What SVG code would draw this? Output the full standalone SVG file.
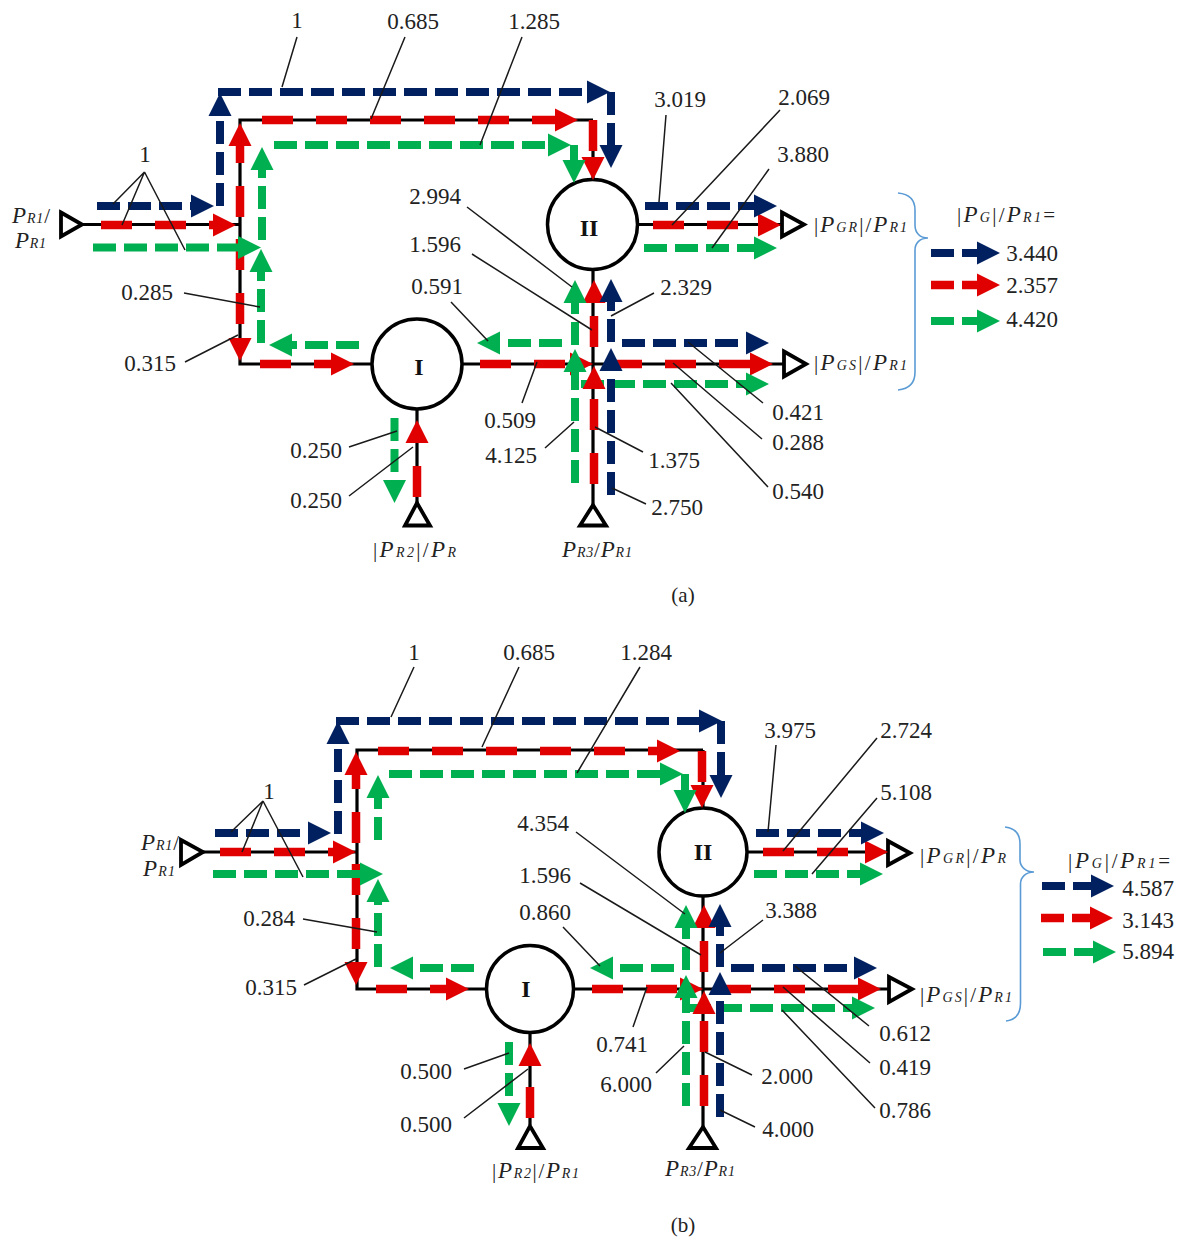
<svg xmlns="http://www.w3.org/2000/svg" width="1180" height="1238" viewBox="0 0 1180 1238">
<style>
text{font-family:"Liberation Serif","Times New Roman",serif;fill:#222}
.n{font-size:23px;text-anchor:middle}
.c{font-size:21px;text-anchor:middle}
.r{font-size:24px;font-weight:bold;text-anchor:middle;fill:#111}
.m{font-size:21px}
.i{font-style:italic;font-size:23px}
.s{font-size:14px;font-style:italic}
.w{fill:none;stroke:#000;stroke-width:3.2}
.nc{fill:#fff;stroke:#000;stroke-width:3.5}
.p{fill:#fff;stroke:#000;stroke-width:3.8}
.b,.g,.d{fill:none;stroke-width:8}
.b{stroke:#002060;stroke-dasharray:23 8;marker-end:url(#hb)}
.g{stroke:#00B050;stroke-dasharray:23 8;marker-end:url(#hg)}
.d{stroke:#E00000;stroke-dasharray:31 23;stroke-width:8.5;marker-end:url(#hd)}
.l{fill:none;stroke:#1a1a1a;stroke-width:1.5}
.br{fill:none;stroke:#5B9BD5;stroke-width:1.6}
</style>
<defs>
<marker id="hb" markerUnits="userSpaceOnUse" markerWidth="24" markerHeight="24" refX="0" refY="12" orient="auto"><path d="M0 .5L23 12L0 23.5Z" fill="#002060"/></marker>
<marker id="hg" markerUnits="userSpaceOnUse" markerWidth="24" markerHeight="24" refX="0" refY="12" orient="auto"><path d="M0 .5L23 12L0 23.5Z" fill="#00B050"/></marker>
<marker id="hd" markerUnits="userSpaceOnUse" markerWidth="24" markerHeight="24" refX="0" refY="12" orient="auto"><path d="M0 .5L23 12L0 23.5Z" fill="#E00000"/></marker>
</defs>
<rect width="1180" height="1238" fill="#fff"/>

<g id="connectors">
<g id="wires-a">
<path class="w" d="M82 224.500H240M593 120H240V364H372M462 364H783M593 120V180M593 269V505M637 224.500H781M417 409V503"/>
</g>
<g id="wires-b">
<path class="w" d="M203 852H357M703 750H357V989H487M574 989H888M703 750V808M703 896V1127M747 852H887M530 1032V1125"/>
</g>
</g>

<g id="node-a-I"><circle class="nc" cx="417" cy="364" r="45"/><text class="r" x="419" y="375">I</text></g>
<g id="node-a-II"><circle class="nc" cx="592.500" cy="224.500" r="45"/><text class="r" x="589" y="236">II</text></g>
<g id="port-a-R1"><path class="p" d="M61 212.500L82 224.500L61 236.500Z"/></g>
<g id="port-a-R2"><path class="p" d="M405 525.500H430L417 503Z"/></g>
<g id="port-a-R3"><path class="p" d="M580 525.500H606L593 505Z"/></g>
<g id="port-a-GR"><path class="p" d="M782 212.500L804 224.500L782 236.500Z"/></g>
<g id="port-a-GS"><path class="p" d="M784 351.500L806 364L784 376.500Z"/></g>

<g id="node-b-I"><circle class="nc" cx="530" cy="989" r="43.500"/><text class="r" x="526" y="997">I</text></g>
<g id="node-b-II"><circle class="nc" cx="703" cy="852" r="44"/><text class="r" x="703" y="860">II</text></g>
<g id="port-b-R1"><path class="p" d="M181 840L203 852L181 865Z"/></g>
<g id="port-b-R2"><path class="p" d="M518 1148H543L530 1126Z"/></g>
<g id="port-b-R3"><path class="p" d="M689 1148H716L703 1127Z"/></g>
<g id="port-b-GR"><path class="p" d="M888 841L910 853L888 865Z"/></g>
<g id="port-b-GS"><path class="p" d="M889 977L912 989L889 1002Z"/></g>

<g id="flows-a">
<path class="d" d="M101 225H213"/><path class="d" d="M240 217V146"/><path class="d" d="M240 239V338"/><path class="d" d="M260 364H331"/>
<path class="d" d="M262 120H555"/><path class="d" d="M593 120V157"/><path class="d" d="M653 225H758"/><path class="d" d="M480 364H570"/>
<path class="d" d="M611 364H750"/><path class="d" d="M594 347V303"/><path class="d" d="M417 497V443"/>
<path class="g" d="M93 247.500H238"/><path class="g" d="M262 240V170"/><path class="g" d="M261 343V272"/>
<path class="g" d="M274 145H548"/><path class="g" d="M574 145V160"/><path class="g" d="M359 345H292"/>
<path class="g" d="M644 248H754"/><path class="g" d="M562 343H500"/><path class="g" d="M575 483V372"/><path class="g" d="M575 345V303"/>
<path class="g" d="M581 384H746"/><path class="g" d="M394.500 418V480"/>
<path class="d" d="M594 484V389"/>
<path class="b" d="M97 206H191"/><path class="b" d="M220 206V116"/><path class="b" d="M218 92H587"/><path class="b" d="M611 92V145"/>
<path class="b" d="M645 206H754"/><path class="b" d="M622 343H746"/><path class="b" d="M611 495V371"/><path class="b" d="M611 342V302"/>
</g>
<g id="flows-b">
<path class="d" d="M220 852H333"/><path class="d" d="M356 843V775"/><path class="d" d="M356 864V962"/><path class="d" d="M376 989H446"/>
<path class="d" d="M378 751H657"/><path class="d" d="M702 751V785"/><path class="d" d="M763 852H865"/><path class="d" d="M720 989H858"/>
<path class="d" d="M592 989H680"/><path class="d" d="M704 972V928"/><path class="d" d="M530 1118V1066"/>
<path class="g" d="M213 874H360"/><path class="g" d="M378 840V798"/><path class="g" d="M378 967V902"/><path class="g" d="M389 774H660"/>
<path class="g" d="M685 774V790"/><path class="g" d="M474 968H413"/><path class="g" d="M754 874H860"/><path class="g" d="M688 1008H852"/>
<path class="g" d="M686 1106V998"/><path class="g" d="M686 970V928"/><path class="g" d="M674 968H613"/><path class="g" d="M509 1042V1103"/>
<path class="d" d="M704 1106V1014"/>
<path class="b" d="M215 833H308"/><path class="b" d="M338 834V744"/><path class="b" d="M336 721H699"/><path class="b" d="M721 721V775"/>
<path class="b" d="M756 833H861"/><path class="b" d="M731 968H854"/><path class="b" d="M720 1117V995"/><path class="b" d="M720 967V927"/>
</g>

<g id="leaders-a">
<path class="l" d="M297 37L282 87M405 37L371 119M522 37L480 145M113 204L144.500 172L122 225M144.500 172L185 250M467 207L572 287M472 254L592 330M451 302L488 341M654 293L611 316M522 403L537 362M545 448L574 422M643 452L595 427M646 504L612 488M763 403L688 342M762 439L673 363M768 487L671 383M666 115L659 202M780 110L672 225M769 169L712 248M184 293L260 307M185 362L238 335M349 447L397 431M349 496L413 447"/>
</g>
<g id="leaders-b">
<path class="l" d="M414 667L391 717M519 667L482 747M640 667L577 773M231 832L263 801L242 852M263 801L303 877M576 832L685 914M580 883L701 955M563 927L600 966M763 920L720 953M633 1027L647 987M656 1073L684 1046M752 1075L705 1052M755 1127L720 1110M869 1026L795 966M870 1063L783 987M875 1108L782 1010M776 745L768 832M877 738L783 851M877 798L812 874M303 919L377 932M304 985L356 959M464 1069L509 1053M464 1118L528 1069"/>
</g>

<g id="labels-a">
<text class="n" x="297" y="28">1</text><text class="n" x="413" y="29">0.685</text><text class="n" x="534" y="29">1.285</text>
<text class="n" x="680" y="107">3.019</text><text class="n" x="804" y="105">2.069</text><text class="n" x="803" y="162">3.880</text>
<text class="n" x="145" y="162">1</text><text class="n" x="435" y="204">2.994</text><text class="n" x="435" y="252">1.596</text>
<text class="n" x="437" y="294">0.591</text><text class="n" x="686" y="295">2.329</text><text class="n" x="147" y="300">0.285</text>
<text class="n" x="150" y="371">0.315</text><text class="n" x="510" y="428">0.509</text><text class="n" x="511" y="463">4.125</text>
<text class="n" x="316" y="458">0.250</text><text class="n" x="316" y="508">0.250</text><text class="n" x="674" y="468">1.375</text>
<text class="n" x="677" y="515">2.750</text><text class="n" x="798" y="420">0.421</text><text class="n" x="798" y="450">0.288</text>
<text class="n" x="798" y="499">0.540</text><text class="c" x="683" y="602">(a)</text>
<text class="m" x="12" y="223" textLength="38"><tspan class="i">P</tspan><tspan class="s">R1</tspan>/</text>
<text class="m" x="15" y="248" textLength="31"><tspan class="i">P</tspan><tspan class="s">R1</tspan></text>
<text class="m" x="814" y="232" textLength="93">|<tspan class="i">P</tspan><tspan class="s">GR</tspan>|/<tspan class="i">P</tspan><tspan class="s">R1</tspan></text>
<text class="m" x="814" y="370" textLength="93">|<tspan class="i">P</tspan><tspan class="s">GS</tspan>|/<tspan class="i">P</tspan><tspan class="s">R1</tspan></text>
<text class="m" x="373" y="557" textLength="83">|<tspan class="i">P</tspan><tspan class="s">R2</tspan>|/<tspan class="i">P</tspan><tspan class="s">R</tspan></text>
<text class="m" x="562" y="557" textLength="70"><tspan class="i">P</tspan><tspan class="s">R3</tspan>/<tspan class="i">P</tspan><tspan class="s">R1</tspan></text>
</g>
<g id="labels-b">
<text class="n" x="414" y="660">1</text><text class="n" x="529" y="660">0.685</text><text class="n" x="646" y="660">1.284</text>
<text class="n" x="790" y="738">3.975</text><text class="n" x="906" y="738">2.724</text><text class="n" x="906" y="800">5.108</text>
<text class="n" x="269" y="799">1</text><text class="n" x="543" y="831">4.354</text><text class="n" x="545" y="883">1.596</text>
<text class="n" x="545" y="920">0.860</text><text class="n" x="791" y="918">3.388</text><text class="n" x="269" y="926">0.284</text>
<text class="n" x="271" y="995">0.315</text><text class="n" x="622" y="1052">0.741</text><text class="n" x="626" y="1092">6.000</text>
<text class="n" x="426" y="1079">0.500</text><text class="n" x="426" y="1132">0.500</text><text class="n" x="787" y="1084">2.000</text>
<text class="n" x="788" y="1137">4.000</text><text class="n" x="905" y="1041">0.612</text><text class="n" x="905" y="1075">0.419</text>
<text class="n" x="905" y="1118">0.786</text><text class="c" x="683" y="1232">(b)</text>
<text class="m" x="141" y="850" textLength="38"><tspan class="i">P</tspan><tspan class="s">R1</tspan>/</text>
<text class="m" x="143" y="876" textLength="32"><tspan class="i">P</tspan><tspan class="s">R1</tspan></text>
<text class="m" x="920" y="863" textLength="86">|<tspan class="i">P</tspan><tspan class="s">GR</tspan>|/<tspan class="i">P</tspan><tspan class="s">R</tspan></text>
<text class="m" x="920" y="1002" textLength="92">|<tspan class="i">P</tspan><tspan class="s">GS</tspan>|/<tspan class="i">P</tspan><tspan class="s">R1</tspan></text>
<text class="m" x="492" y="1178" textLength="87">|<tspan class="i">P</tspan><tspan class="s">R2</tspan>|/<tspan class="i">P</tspan><tspan class="s">R1</tspan></text>
<text class="m" x="665" y="1176" textLength="70"><tspan class="i">P</tspan><tspan class="s">R3</tspan>/<tspan class="i">P</tspan><tspan class="s">R1</tspan></text>
</g>

<g id="legend-a">
<path class="br" d="M898 193C908 194 915 199 915 210V225C915 233 920 238 928 238C920 238 915 243 915 250V372C915 384 908 389 898 390"/>
<text class="m" x="957" y="222" textLength="98">|<tspan class="i">P</tspan><tspan class="s">G</tspan>|/<tspan class="i">P</tspan><tspan class="s">R1</tspan>=</text>
<path class="b" d="M931 253H977"/><path class="d" style="stroke-dasharray:23 8" d="M931 285H977"/><path class="g" d="M931 321H977"/>
<text class="n" x="1032" y="261">3.440</text><text class="n" x="1032" y="293">2.357</text><text class="n" x="1032" y="327">4.420</text>
</g>
<g id="legend-b">
<path class="br" d="M1005 827C1015 828 1020 833 1020 844V860C1020 867 1026 872 1034 872C1026 872 1020.500 877 1020.500 884V1003C1020.500 1015 1015 1020 1006 1021"/>
<text class="m" x="1068" y="868" textLength="102">|<tspan class="i">P</tspan><tspan class="s">G</tspan>|/<tspan class="i">P</tspan><tspan class="s">R1</tspan>=</text>
<path class="b" d="M1042 886H1091"/><path class="d" style="stroke-dasharray:23 8" d="M1041 918H1090"/><path class="g" d="M1043 952H1093"/>
<text class="n" x="1148" y="896">4.587</text><text class="n" x="1148" y="928">3.143</text><text class="n" x="1148" y="959">5.894</text>
</g>
</svg>
